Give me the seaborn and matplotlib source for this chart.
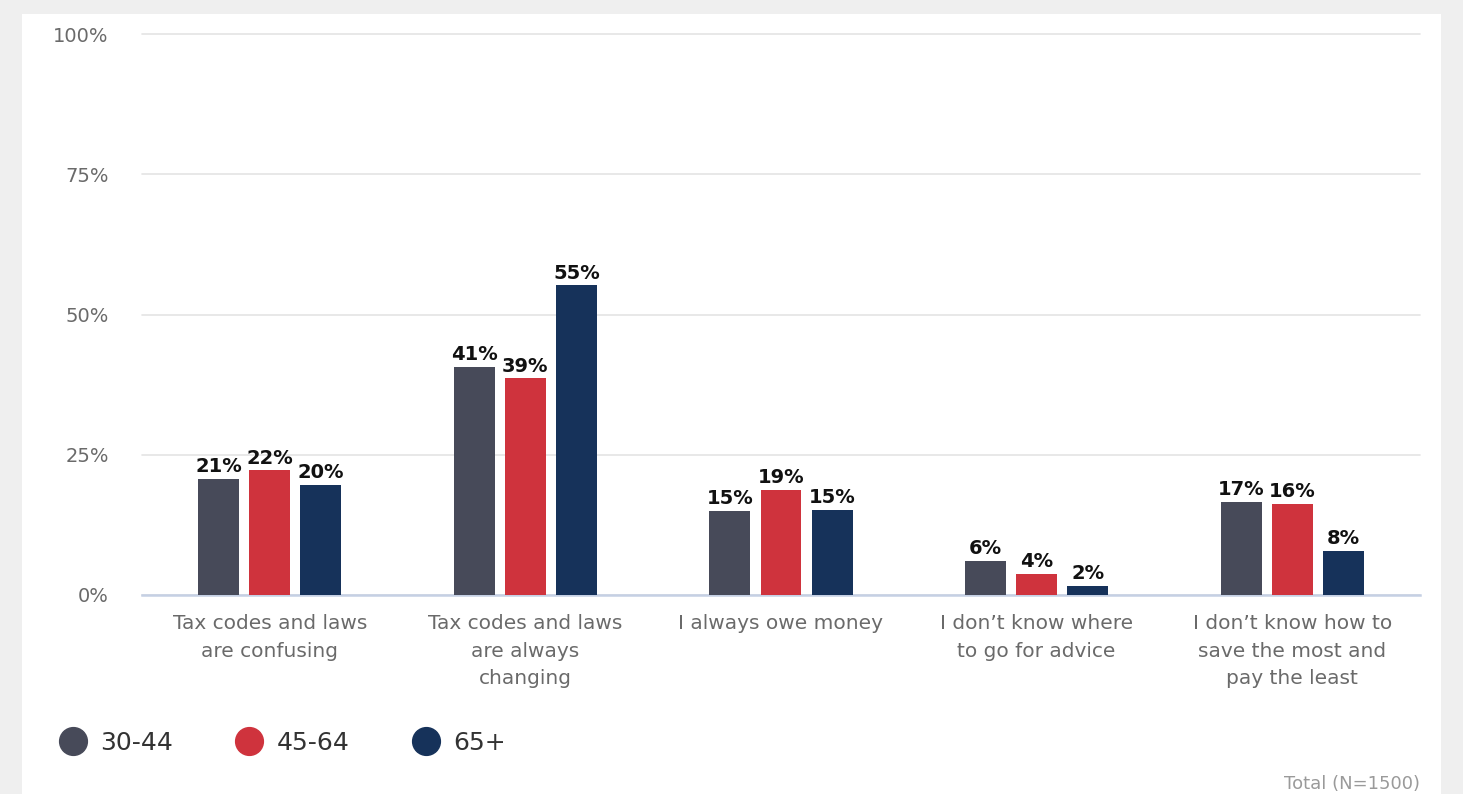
import matplotlib
matplotlib.use("Agg")
import matplotlib.pyplot as plt
import seaborn as sns
import pandas as pd
from matplotlib.lines import Line2D
from matplotlib.patches import Rectangle

categories = [
    "Tax codes and laws\nare confusing",
    "Tax codes and laws\nare always\nchanging",
    "I always owe money",
    "I don\u2019t know where\nto go for advice",
    "I don\u2019t know how to\nsave the most and\npay the least",
]
groups = ["30-44", "45-64", "65+"]
vals_30_44 = [20.7, 40.7, 15.0, 6.1, 16.6]
vals_45_64 = [22.2, 38.6, 18.8, 3.7, 16.3]
vals_65 = [19.6, 55.2, 15.2, 1.6, 7.9]
colors = ["#474a59", "#cf333d", "#16325a"]
yticks = [0, 25, 50, 75, 100]
ytick_labels = ["0%", "25%", "50%", "75%", "100%"]
footnote = "Total (N=1500)"

rows = []
for g, vals in zip(groups, [vals_30_44, vals_45_64, vals_65]):
    for c, v in zip(categories, vals):
        rows.append({"category": c, "group": g, "value": v})
df = pd.DataFrame(rows)

sns.set_theme(style="white")
plt.rcParams["font.family"] = ["DejaVu Sans"]

fig = plt.figure(figsize=(14.63, 7.94), dpi=100)
fig.patch.set_facecolor("#efefef")
card = Rectangle((22 / 1463, 0), (1441 - 22) / 1463, 1 - 14 / 794,
                 transform=fig.transFigure, facecolor="white", edgecolor="none", zorder=-10)
fig.patches.append(card)

ax = fig.add_axes([142 / 1463, 1 - 595 / 794, (1420 - 142) / 1463, (595 - 34) / 794])
ax.set_facecolor("none")

sns.barplot(data=df, x="category", y="value", hue="group", order=categories,
            hue_order=groups, palette=colors, width=0.6, gap=0.2,
            saturation=1, ax=ax, legend=False, zorder=3, linewidth=0)

for cont in ax.containers:
    ax.bar_label(cont, fmt="{:.0f}%", padding=2, fontsize=14,
                 fontweight="bold", color="#111111")

ax.set_ylim(0, 100)
ax.set_xlim(-0.5, 4.5)
ax.set_yticks(yticks)
ax.set_yticklabels(ytick_labels)
ax.grid(axis="y", color="#e4e4e4", linewidth=1.2, zorder=0)
for gl in ax.get_ygridlines():
    gl.set_clip_on(False)
ax.set_axisbelow(True)
for s in ["top", "right", "left"]:
    ax.spines[s].set_visible(False)
ax.spines["bottom"].set_color("#c5d0e4")
ax.spines["bottom"].set_linewidth(1.8)
ax.tick_params(axis="y", length=0, pad=24, labelsize=14, labelcolor="#6a6a6a")
ax.tick_params(axis="x", length=0, pad=14, labelsize=14.5, labelcolor="#6a6a6a")
for lbl in ax.get_xticklabels():
    lbl.set_linespacing(1.55)
ax.set_xlabel("")
ax.set_ylabel("")

handles = [Line2D([0], [0], marker="o", linestyle="none", markersize=20,
                  markerfacecolor=c, markeredgecolor=c) for c in colors]
fig.legend(handles, groups, loc="center left", bbox_to_anchor=(35 / 1463, 1 - 743 / 794),
           ncol=3, frameon=False, fontsize=18, labelcolor="#333333",
           handletextpad=0.5, columnspacing=2.45, handlelength=1.2)

fig.text(1420 / 1463, 1 - 784 / 794, footnote, ha="right", va="center",
         fontsize=13, color="#9a9a9a")

fig.savefig("out.png", dpi=100, facecolor=fig.get_facecolor())
